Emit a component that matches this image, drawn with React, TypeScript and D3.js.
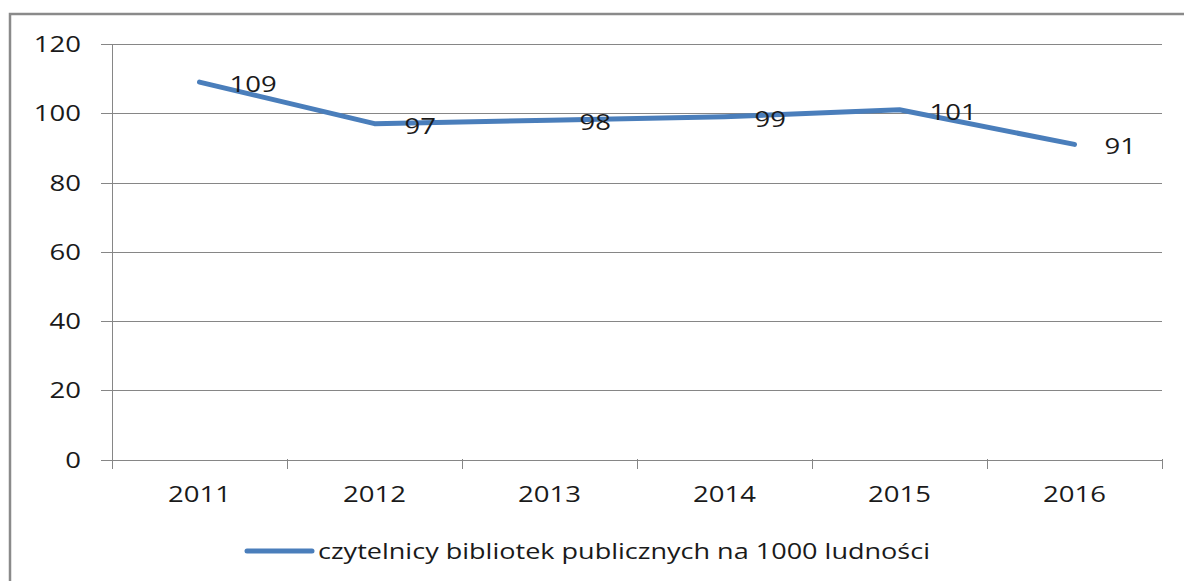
import * as React from 'react'
import {scaleLinear, scaleBand, line} from 'd3'

// dane z wykresu
const years = ['2011', '2012', '2013', '2014', '2015', '2016']
const readers = [109, 97, 98, 99, 101, 91]
const yTicks = [0, 20, 40, 60, 80, 100, 120]
const seriesName = 'czytelnicy bibliotek publicznych na 1000 ludności'

const W = 1184
const H = 581
const FONT = '"Open Sans", "DejaVu Sans", sans-serif'
const SX = 1.25 // tekst w oryginale jest rozciągnięty w poziomie

export default function App() {
  const x = scaleBand().domain(years).range([112, 1162])
  const y = scaleLinear().domain([0, 120]).range([459.5, 44])
  const cx = (d: string) => (x(d) ?? 0) + x.bandwidth() / 2

  const path = line<number>()
    .x((_, i) => cx(years[i]))
    .y(d => y(d))(readers)

  const grid = '#868686'

  return (
    <svg width={W} height={H} style={{position: 'absolute', left: 0, top: 0, background: '#fff'}}>
      <rect x={10} y={14} width={W + 10} height={H + 10} fill="#fff" stroke="#8a8a8a" strokeWidth={2.5} />

      {yTicks.map(t => (
        <g key={t}>
          <line x1={101} x2={1162} y1={Math.round(y(t)) + 0.5} y2={Math.round(y(t)) + 0.5} stroke={grid} strokeWidth={1} />
          <text
            transform={`translate(81, ${y(t) + 8}) scale(${SX}, 1)`}
            textAnchor="end"
            fontFamily={FONT}
            fontSize={22}
            fill="#1a1a1a"
          >
            {t}
          </text>
        </g>
      ))}

      <line x1={112.5} x2={112.5} y1={44} y2={469} stroke={grid} strokeWidth={1} />

      {years.map((d, i) => (
        <line key={'t' + d} x1={Math.round(x(d)! + x.bandwidth()) + 0.5} x2={Math.round(x(d)! + x.bandwidth()) + 0.5}
          y1={459} y2={469} stroke={grid} strokeWidth={1} />
      ))}

      {years.map(d => (
        <text
          key={d}
          transform={`translate(${cx(d)}, 502) scale(${SX}, 1)`}
          textAnchor="middle"
          fontFamily={FONT}
          fontSize={22}
          fill="#1a1a1a"
        >
          {d}
        </text>
      ))}

      <path d={path ?? ''} fill="none" stroke="#4a7ebb" strokeWidth={5} strokeLinejoin="round" strokeLinecap="round" />

      {readers.map((v, i) => (
        <text
          key={'l' + i}
          transform={`translate(${cx(years[i]) + 30}, ${y(v) + 10}) scale(${SX}, 1)`}
          fontFamily={FONT}
          fontSize={22}
          fill="#1a1a1a"
        >
          {v}
        </text>
      ))}

      <line x1={247} x2={312} y1={551} y2={551} stroke="#4a7ebb" strokeWidth={5} strokeLinecap="round" />
      <text
        x={318}
        y={559}
        fontFamily={FONT}
        fontSize={22}
        fill="#1a1a1a"
        textLength={612}
        lengthAdjust="spacingAndGlyphs"
      >
        {seriesName}
      </text>
    </svg>
  )
}
